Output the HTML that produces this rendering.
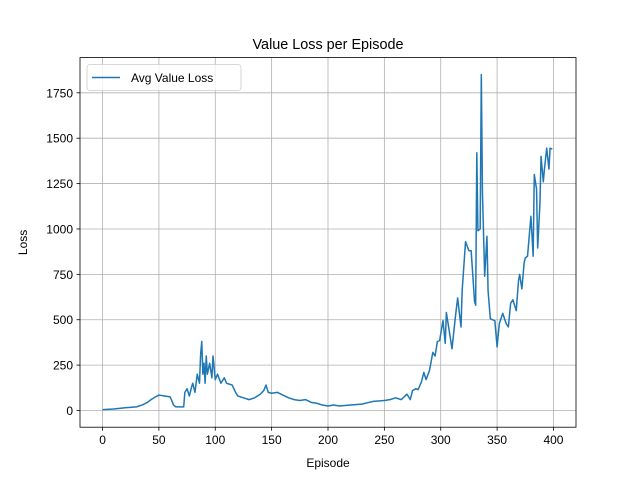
<!DOCTYPE html>
<html><head><meta charset="utf-8"><style>body{margin:0;background:#fff}svg{font-family:"Liberation Sans","DejaVu Sans",sans-serif}</style></head>
<body>
<svg id="chart" width="640" height="480"></svg>
<script>
const episodes=[0,10,20,30,35,40,43,47,50,55,60,63,65,70,72,73,75,77,79,80,82,84,86,87,88,89,90,91,92,93,95,97,98,100,102,105,108,110,115,118,120,125,130,135,140,143,145,147,150,155,160,165,170,175,180,185,190,195,200,205,210,220,230,240,250,255,260,265,270,273,275,278,280,283,285,287,290,293,295,297,299,302,304,305,307,310,313,315,318,319,322,325,327,330,331,332,333,335,336,337,339,341,342,344,348,350,352,355,358,360,362,364,367,369,370,372,374,375,377,380,382,383,385,386,388,389,391,392,394,396,397,399];
const lossValues=[5,8,15,20,30,45,60,75,85,80,75,30,20,20,20,100,120,80,130,150,100,200,150,310,380,200,260,150,300,200,260,180,300,170,200,150,180,150,140,100,80,70,60,70,90,110,140,100,95,100,85,70,60,55,60,45,40,30,25,30,25,30,35,50,55,60,70,60,90,60,110,120,115,160,210,170,220,320,300,380,385,495,370,540,460,340,515,620,460,660,930,880,880,600,580,1420,990,1000,1850,1200,740,960,660,505,495,350,480,535,480,460,590,610,550,715,750,670,815,840,850,1070,850,1300,1220,895,1140,1400,1260,1330,1445,1330,1445,1440];
const yTicks=[0,250,500,750,1000,1250,1500,1750];
const xTicks=[0,50,100,150,200,250,300,350,400];
const NS='http://www.w3.org/2000/svg';
const svg=document.getElementById('chart');
const L=80,R=576,T=57.6,B=427.2;
const xMin=-20,xMax=420,yMin=-92,yMax=1944;
function xs(v){return L+(v-xMin)/(xMax-xMin)*(R-L);}
function ys(v){return B-(v-yMin)/(yMax-yMin)*(B-T);}
function mk(tag,attrs,parent){const e=document.createElementNS(NS,tag);for(const k in attrs)e.setAttribute(k,attrs[k]);(parent||svg).appendChild(e);return e;}
const grid=mk('g',{});


xTicks.forEach(t=>{const x=xs(t);
 mk('line',{x1:x,x2:x,y1:T,y2:B,stroke:'#b0b0b0','stroke-width':0.8},grid);
 mk('line',{x1:x,x2:x,y1:B,y2:B+3.5,stroke:'#000','stroke-width':0.8});
 const tx=mk('text',{x:x,y:B+17,'font-size':12,'text-anchor':'middle'});tx.textContent=t;
 
 
});
yTicks.forEach(t=>{const y=ys(t);
 mk('line',{x1:L,x2:R,y1:y,y2:y,stroke:'#b0b0b0','stroke-width':0.8},grid);
 mk('line',{x1:L-3.5,x2:L,y1:y,y2:y,stroke:'#000','stroke-width':0.8});
 const tx=mk('text',{x:L-7,y:y+4.5,'font-size':12,'text-anchor':'end'});tx.textContent=t;
 
 
});
let d='';episodes.forEach((e,i)=>{d+=(i?'L':'M')+xs(e).toFixed(2)+','+ys(lossValues[i]).toFixed(2);});
const line=mk('path',{d:d,fill:'none',stroke:'#1f77b4','stroke-width':1.5,'stroke-linejoin':'round'});


const frame=mk('rect',{x:L,y:T,width:R-L,height:B-T,fill:'none',stroke:'#000','stroke-width':0.8});


const title=mk('text',{x:(L+R)/2,y:49,'font-size':14.4,'text-anchor':'middle'});title.textContent='Value Loss per Episode';


const xl=mk('text',{x:(L+R)/2,y:467,'font-size':12,'text-anchor':'middle'});xl.textContent='Episode';


const yl=mk('text',{x:27,y:(T+B)/2,'font-size':12,'text-anchor':'middle',transform:'rotate(-90 27 '+((T+B)/2)+')'});yl.textContent='Loss';


const lg=mk('g',{});


mk('rect',{x:87,y:64.5,width:154,height:26,rx:3,fill:'#fff','fill-opacity':0.8,stroke:'#ccc','stroke-width':0.8},lg);
mk('line',{x1:92,x2:120,y1:77.5,y2:77.5,stroke:'#1f77b4','stroke-width':1.5},lg);
const lt=mk('text',{x:131,y:82,'font-size':12},lg);lt.textContent='Avg Value Loss';


</script>
</body></html>
